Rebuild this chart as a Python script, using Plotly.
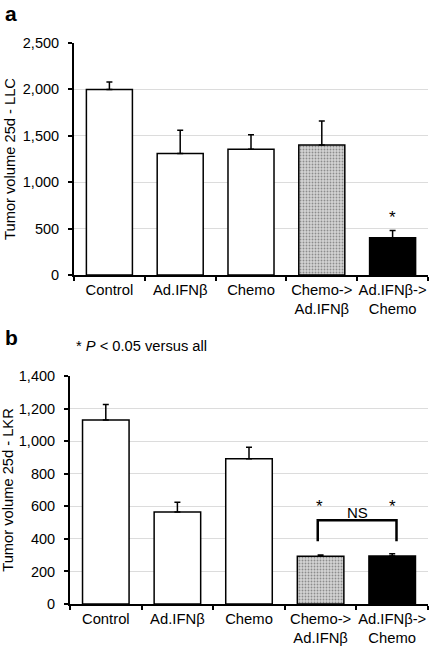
import plotly.graph_objects as go

categories = ["Control", "Ad.IFNβ", "Chemo", "Chemo-><br>Ad.IFNβ", "Ad.IFNβ-><br>Chemo"]
llc_values = [2000, 1310, 1355, 1400, 402]
llc_err = [80, 250, 155, 260, 78]
lkr_values = [1130, 565, 892, 293, 295]
lkr_err = [95, 60, 70, 8, 14]
bar_colors = ["white", "white", "white", "#d4d4d4", "black"]
llc_ticks = [0, 500, 1000, 1500, 2000, 2500]
lkr_ticks = [0, 200, 400, 600, 800, 1000, 1200, 1400]

FONT = "Liberation Sans, Arial, sans-serif"

fig = go.Figure()

def add_bars(vals, errs, xa, ya):
    fig.add_trace(go.Bar(
        x=categories, y=vals, xaxis=xa, yaxis=ya,
        marker=dict(color=bar_colors, line=dict(color="black", width=1.5),
                    pattern=dict(shape=["", "", "", ".", ""], fgcolor="#9a9a9a", size=3, solidity=0.3)),
        error_y=dict(type="data", symmetric=False, array=errs, arrayminus=[0]*5,
                     color="black", thickness=1.5, width=3),
        showlegend=False, hoverinfo="skip"))

add_bars(llc_values, llc_err, "x", "y")
add_bars(lkr_values, lkr_err, "x2", "y2")

xcommon = dict(type="category", showline=True, linecolor="black", linewidth=2, automargin=False,
               ticks="outside", tickson="boundaries", ticklen=4, tickwidth=2, tickcolor="black",
               tickangle=0,
               tickfont=dict(family=FONT, size=14.8, color="black"), showgrid=False)
ycommon = dict(showline=True, linecolor="black", linewidth=2, ticks="outside", ticklen=4, automargin=False,
               tickwidth=2, tickcolor="black", tickformat=",", showgrid=True, ticklabelstandoff=6,
               gridcolor="#dcdcdc", gridwidth=1, zeroline=False,
               tickfont=dict(family=FONT, size=14.5, color="black"))

H = 647
top, bot = 43, 43
ph = H - top - bot
def py(p):
    return (H - bot - p) / ph

fig.update_layout(
    width=435, height=647,
    margin=dict(l=70, r=7, t=top, b=bot),
    plot_bgcolor="white", paper_bgcolor="white",
    bargap=0.35,
    font=dict(family=FONT, color="black"),
    xaxis=dict(**xcommon, domain=[(74-70)/358, 1], anchor="y"),
    yaxis=dict(**ycommon, domain=[py(275), 1], anchor="x", range=[0, 2500], tickvals=llc_ticks,
               title=dict(text="Tumor volume 25d - LLC", font=dict(family=FONT, size=14.7), standoff=4)),
    xaxis2=dict(**xcommon, domain=[0, 1], anchor="y2"),
    yaxis2=dict(**ycommon, domain=[0, py(376)], anchor="x2", range=[0, 1400], tickvals=lkr_ticks,
                title=dict(text="Tumor volume 25d - LKR", font=dict(family=FONT, size=14.7), standoff=4)),
)

annotations = [
    dict(text="<b>a</b>", xref="paper", yref="paper", x=-0.187, y=py(13), xanchor="left", yanchor="middle",
         showarrow=False, font=dict(size=21, family=FONT)),
    dict(text="<b>b</b>", xref="paper", yref="paper", x=-0.187, y=py(337), xanchor="left", yanchor="middle",
         showarrow=False, font=dict(size=21, family=FONT)),
    dict(text="* <i>P</i> < 0.05 versus all", xref="paper", yref="paper", x=(74-70)/358, y=py(346),
         xanchor="left", yanchor="middle", showarrow=False, font=dict(size=14.7, family=FONT)),
    dict(text="*", xref="x", yref="y", x=4, y=620, showarrow=False, yanchor="middle",
         font=dict(size=17, family=FONT)),
    dict(text="*", xref="x2", yref="y2", x=2.98, y=600, showarrow=False, yanchor="middle",
         font=dict(size=17, family=FONT)),
    dict(text="*", xref="x2", yref="y2", x=4.0, y=600, showarrow=False, yanchor="middle",
         font=dict(size=17, family=FONT)),
    dict(text="NS", xref="x2", yref="y2", x=3.52, y=560, showarrow=False, yanchor="middle",
         font=dict(size=15, family=FONT)),
]
fig.update_layout(annotations=annotations)

fig.add_shape(type="path", xref="x2", yref="y2",
              path="M 2.96,385 L 2.96,514 L 4.06,514 L 4.06,385",
              line=dict(color="black", width=2.5))

fig.write_html("out.html", post_script="document.body.style.margin='0';",
               config={"displayModeBar": False})
